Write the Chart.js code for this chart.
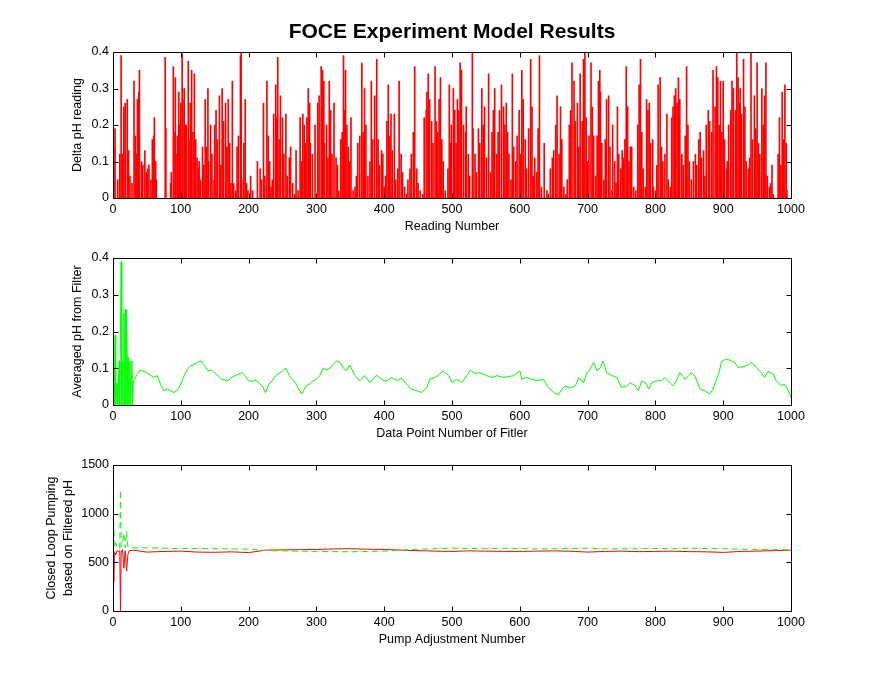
<!DOCTYPE html>
<html>
<head>
<meta charset="utf-8">
<title>FOCE Experiment Model Results</title>
<script src="https://cdn.jsdelivr.net/npm/chart.js@4"></script>
<style>
  body { margin: 0; background: #fff; }
  #wrap { position: relative; width: 874px; height: 689px; }
  #wrap canvas { position: absolute; left: 0; top: 0; }
</style>
</head>
<body>
<div id="wrap">
  <canvas id="c1" width="874" height="689"></canvas>
  <canvas id="c2" width="874" height="689"></canvas>
  <canvas id="c3" width="874" height="689"></canvas>
</div>
<script>
// top plot: raw delta pH spikes (reading number / value)
const readingNum = [
  1,3,7,10,12,14,16,18,21,23,25,28,31,33,35,36,38,39,42,44,
  47,49,51,53,56,58,60,61,63,64,77,78,85,86,89,90,92,93,95,97,
  98,100,102,103,105,107,108,111,112,114,116,118,120,122,124,126,127,129,132,134,
  136,138,140,141,144,146,149,150,152,154,157,159,161,163,166,168,170,172,174,176,
  178,181,183,185,188,189,190,193,195,197,199,203,206,213,217,219,222,224,227,229,
  231,233,235,237,240,241,243,245,247,250,252,255,257,260,262,265,268,270,273,276,
  278,280,282,284,286,288,290,291,294,298,302,304,307,309,311,312,315,317,319,321,
  323,326,329,331,333,336,338,340,341,343,345,347,349,351,354,357,359,361,364,367,
  369,371,373,376,379,381,383,386,389,391,393,396,398,400,402,404,406,408,410,412,
  415,417,420,422,425,427,430,433,435,438,440,443,445,448,450,453,457,459,462,463,
  465,467,470,472,475,477,479,481,483,485,487,490,494,496,498,499,502,504,506,508,
  510,512,514,517,520,521,524,526,530,531,534,536,539,541,544,546,548,551,554,557,
  559,561,563,566,568,570,573,576,578,580,582,584,587,589,591,594,596,599,601,603,
  605,608,610,613,616,618,620,622,625,627,629,632,636,640,642,645,648,650,653,655,
  658,660,662,665,668,670,673,675,677,680,682,685,687,689,692,694,696,698,700,702,
  705,707,709,712,714,716,718,719,721,724,726,728,731,733,736,737,740,742,744,746,
  749,751,753,755,757,759,761,763,765,768,771,774,776,778,780,782,785,787,789,791,
  793,796,797,800,802,804,807,809,811,814,817,819,822,824,826,828,830,832,834,836,
  839,841,844,846,848,850,853,856,859,861,864,866,868,871,873,875,878,880,883,885,
  888,890,892,894,896,898,900,902,905,906,908,911,913,915,918,920,922,924,925,927,
  930,932,934,937,939,941,943,946,948,950,952,954,957,959,961,963,965,968,970,972,
  974,981,983,985,987,989,991,993,994
];
const deltaPh = [
  .14,.19,.05,.12,.39,.12,.25,.26,.27,.13,.06,.04,.32,.17,.12,.27,.29,.35,.10,.09,
  .13,.07,.08,.09,.05,.16,.17,.22,.10,.05,.385,.19,.04,.07,.36,.18,.33,.12,.17,.29,
  .20,.26,.395,.27,.30,.20,.20,.375,.16,.26,.35,.18,.34,.16,.11,.08,.10,.05,.14,.09,
  .27,.14,.30,.10,.20,.12,.05,.20,.24,.16,.28,.09,.30,.21,.26,.14,.27,.15,.04,.32,
  .04,.02,.14,.17,.39,.40,.05,.15,.27,.04,.02,.06,.02,.10,.08,.05,.26,.06,.32,.17,
  .10,.03,.05,.23,.31,.22,.385,.16,.28,.22,.12,.23,.06,.11,.14,.04,.01,.13,.02,.22,
  .10,.23,.20,.15,.22,.30,.26,.15,.12,.20,.26,.28,.36,.35,.32,.15,.20,.11,.32,.24,
  .12,.26,.11,.09,.02,.16,.18,.39,.24,.35,.20,.14,.10,.22,.02,.03,.06,.15,.17,.37,
  .18,.30,.20,.06,.10,.32,.16,.28,.38,.16,.09,.13,.12,.03,.06,.21,.31,.17,.23,.13,
  .23,.05,.08,.32,.12,.07,.03,.01,.05,.08,.12,.18,.36,.08,.04,.02,.01,.22,.24,.29,
  .34,.27,.21,.15,.36,.21,.18,.27,.33,.16,.10,.02,.08,.31,.15,.20,.30,.24,.15,.27,
  .24,.37,.35,.20,.18,.25,.12,.06,.40,.19,.12,.07,.19,.15,.30,.20,.25,.11,.34,.07,
  .18,.24,.30,.12,.18,.24,.31,.25,.20,.26,.18,.12,.05,.34,.14,.10,.17,.24,.12,.35,
  .27,.16,.08,.19,.38,.25,.06,.11,.07,.19,.39,.03,.15,.02,.01,.08,.11,.13,.20,.28,
  .12,.25,.16,.03,.01,.05,.20,.24,.37,.32,.21,.26,.14,.34,.21,.38,.40,.22,.10,.17,
  .37,.25,.17,.06,.17,.32,.35,.29,.15,.05,.16,.27,.28,.14,.02,.20,.10,.04,.25,.12,
  .08,.13,.11,.16,.36,.25,.10,.14,.14,.03,.02,.20,.31,.38,.18,.08,.03,.27,.24,.26,
  .15,.16,.03,.02,.09,.31,.33,.14,.10,.12,.23,.05,.03,.22,.25,.28,.30,.26,.33,.27,
  .12,.09,.17,.36,.20,.10,.05,.10,.12,.09,.16,.18,.11,.13,.06,.20,.24,.21,.18,.35,
  .25,.36,.33,.20,.32,.18,.32,.16,.08,.10,.20,.24,.32,.30,.24,.40,.33,.26,.30,.23,
  .38,.25,.10,.08,.11,.40,.16,.28,.19,.37,.15,.12,.30,.20,.28,.37,.06,.03,.04,.09,
  .01,.12,.22,.09,.29,.16,.31,.15,.02
];

// middle plot: filter output
const filterX = [
  0,1,2,3,4,6,7,9,10,11,12,13,14,15,16,17,18,19,20,21,22,23,24,25,26,28,29,30,
  40,50,60,65,70,75,80,90,95,100,105,110,115,120,125,130,135,140,145,150,155,160,
  170,175,180,185,190,195,200,205,210,215,220,225,230,235,240,250,255,260,265,270,
  278,285,290,295,300,305,310,315,320,325,330,335,340,344,349,357,364,371,379,389,
  396,403,411,418,426,433,440,448,455,463,467,475,482,487,495,500,507,514,522,527,
  534,541,551,559,566,576,583,591,600,603,610,618,625,635,642,650,657,662,667,674,
  682,687,694,699,704,709,714,719,723,728,736,743,750,758,763,770,775,780,787,790,
  795,802,809,814,819,826,831,836,844,849,853,858,866,873,880,885,893,898,905,912,
  917,922,929,937,942,949,956,961,966,974,978,986,990,995,1000
];
const filterPh = [
  0,.14,0,.19,0,.06,0,.12,0,.20,.39,0,.12,0,.25,0,.26,0,.26,.13,0,.13,0,.12,0,.12,0,.066,
  .095,.088,.075,.08,.057,.039,.043,.034,.04,.057,.08,.098,.107,.111,.116,.12,.107,.093,.095,.088,.08,.07,
  .066,.075,.08,.084,.088,.08,.066,.064,.068,.061,.052,.034,.057,.066,.08,.093,.10,.08,.07,.057,
  .03,.052,.057,.066,.07,.08,.10,.095,.10,.111,.12,.116,.10,.093,.109,.08,.066,.08,.061,.081,
  .07,.064,.075,.066,.073,.057,.043,.039,.034,.048,.07,.075,.084,.093,.08,.061,.07,.061,.08,.095,
  .086,.088,.08,.075,.08,.075,.077,.08,.093,.07,.075,.07,.066,.07,.048,.034,.028,.043,.052,.046,
  .052,.075,.061,.088,.098,.116,.093,.102,.12,.088,.08,.075,.048,.052,.061,.052,.039,.066,.057,.043,
  .061,.066,.066,.075,.066,.052,.066,.088,.07,.08,.088,.08,.043,.039,.03,.043,.084,.12,.125,.12,
  .116,.102,.104,.109,.116,.102,.088,.075,.091,.084,.066,.052,.057,.043,.02
];

// bottom plot: closed loop pumping
const pumpX = [
  0,1,2,3,4,6,8,10,11,12,14,16,18,20,22,24,
  30,50,75,100,125,150,175,200,225,250,275,300,325,350,375,400,425,450,475,500,
  525,550,575,600,625,650,675,700,725,750,775,800,825,850,875,900,925,950,975,1000
];
const pumpRed = [
  620,300,600,590,580,620,610,620,0,600,630,440,620,410,580,620,
  625,605,612,615,605,603,608,600,625,628,630,632,638,640,635,632,625,620,615,612,
  618,615,613,612,615,618,614,605,612,615,610,612,615,610,608,602,612,615,620,625
];
const pumpGreen = [
  620,930,680,650,700,660,650,640,1240,660,700,800,650,820,660,650,
  650,648,645,640,642,640,638,635,622,618,615,612,610,608,612,615,625,635,640,645,
  642,640,645,642,638,640,642,645,640,638,640,642,640,645,642,640,635,632,630,628
];

const xTicks = [0, 100, 200, 300, 400, 500, 600, 700, 800, 900, 1000];

Chart.defaults.font.family = 'Arial, "Liberation Sans", sans-serif';
Chart.defaults.font.size = 12.5;
Chart.defaults.color = '#000';

// matlab style box with inward ticks on all four sides
const boxTicks = {
  id: 'boxTicks',
  afterDraw(chart) {
    const { ctx, chartArea: a, scales: { x, y } } = chart;
    const L = Math.round(a.left) + 0.5, R = Math.round(a.right) + 0.5;
    const T = Math.round(a.top) + 0.5, B = Math.round(a.bottom) + 0.5;
    ctx.save();
    ctx.strokeStyle = '#000';
    ctx.lineWidth = 1;
    ctx.beginPath();
    ctx.rect(L, T, R - L, B - T);
    x.ticks.forEach(t => {
      const px = Math.round(x.getPixelForValue(t.value)) + 0.5;
      ctx.moveTo(px, B); ctx.lineTo(px, B - 5);
      ctx.moveTo(px, T); ctx.lineTo(px, T + 5);
    });
    y.ticks.forEach(t => {
      const py = Math.round(y.getPixelForValue(t.value)) + 0.5;
      ctx.moveTo(L, py); ctx.lineTo(L + 5, py);
      ctx.moveTo(R, py); ctx.lineTo(R - 5, py);
    });
    ctx.stroke();
    ctx.restore();
  }
};

function xScale(title) {
  return {
    type: 'linear', min: 0, max: 1000, offset: false,
    grid: { display: false, drawTicks: false }, border: { display: false },
    ticks: { stepSize: 100, padding: 4, callback: v => String(v) },
    title: { display: true, text: title, padding: { top: 0, bottom: 5.5 } },
    afterFit: s => { s.height = 42; }
  };
}

function yScale(max, step, title, width, titlePad) {
  return {
    min: 0, max: max,
    grid: { display: false, drawTicks: false }, border: { display: false },
    ticks: { stepSize: step, padding: 4, callback: v => String(+v.toFixed(2)) },
    title: { display: true, text: title, padding: { top: titlePad, bottom: 0 }, font: { lineHeight: 1.3 } },
    afterFit: s => { s.width = width; }
  };
}

const common = {
  responsive: false,
  devicePixelRatio: 1,
  animation: false,
  events: [],
  plugins: { legend: { display: false }, tooltip: { enabled: false } }
};

new Chart(document.getElementById('c1'), {
  type: 'bar',
  data: {
    datasets: [{
      data: readingNum.map((v, i) => ({ x: v, y: deltaPh[i] })),
      backgroundColor: '#ff0000',
      borderWidth: 0,
      barThickness: 1
    }]
  },
  options: {
    ...common,
    layout: { padding: { left: 60, right: 83, top: 0, bottom: 449 } },
    plugins: {
      ...common.plugins,
      title: {
        display: true, fullSize: false,
        text: 'FOCE Experiment Model Results',
        font: { size: 21, weight: 'bold', lineHeight: 1.2 },
        padding: { top: 19.4, bottom: 7.4 }
      }
    },
    scales: {
      x: xScale('Reading Number'),
      y: yScale(0.4, 0.1, 'Delta pH reading', 53, 9.5)
    }
  },
  plugins: [boxTicks]
});

new Chart(document.getElementById('c2'), {
  type: 'line',
  data: {
    datasets: [{
      data: filterX.map((v, i) => ({ x: v, y: filterPh[i] })),
      borderColor: '#00ff00',
      borderWidth: 1,
      pointRadius: 0,
      tension: 0
    }]
  },
  options: {
    ...common,
    layout: { padding: { left: 60, right: 83, top: 258, bottom: 242 } },
    scales: {
      x: xScale('Data Point Number of Fitler'),
      y: yScale(0.4, 0.1, 'Averaged pH from Filter', 53, 9.5)
    }
  },
  plugins: [boxTicks]
});

new Chart(document.getElementById('c3'), {
  type: 'line',
  data: {
    datasets: [{
      data: pumpX.map((v, i) => ({ x: v, y: pumpGreen[i] })),
      borderColor: '#00ff00',
      borderWidth: 1,
      borderDash: [6, 4],
      pointRadius: 0,
      tension: 0
    }, {
      data: pumpX.map((v, i) => ({ x: v, y: pumpRed[i] })),
      borderColor: '#ff0000',
      borderWidth: 1,
      pointRadius: 0,
      tension: 0
    }]
  },
  options: {
    ...common,
    layout: { padding: { left: 40, right: 83, top: 465, bottom: 36 } },
    scales: {
      x: xScale('Pump Adjustment Number'),
      y: yScale(1500, 500, ['Closed Loop Pumping', 'based on Filtered pH'], 73, 3.9)
    }
  },
  plugins: [boxTicks]
});
</script>
</body>
</html>
